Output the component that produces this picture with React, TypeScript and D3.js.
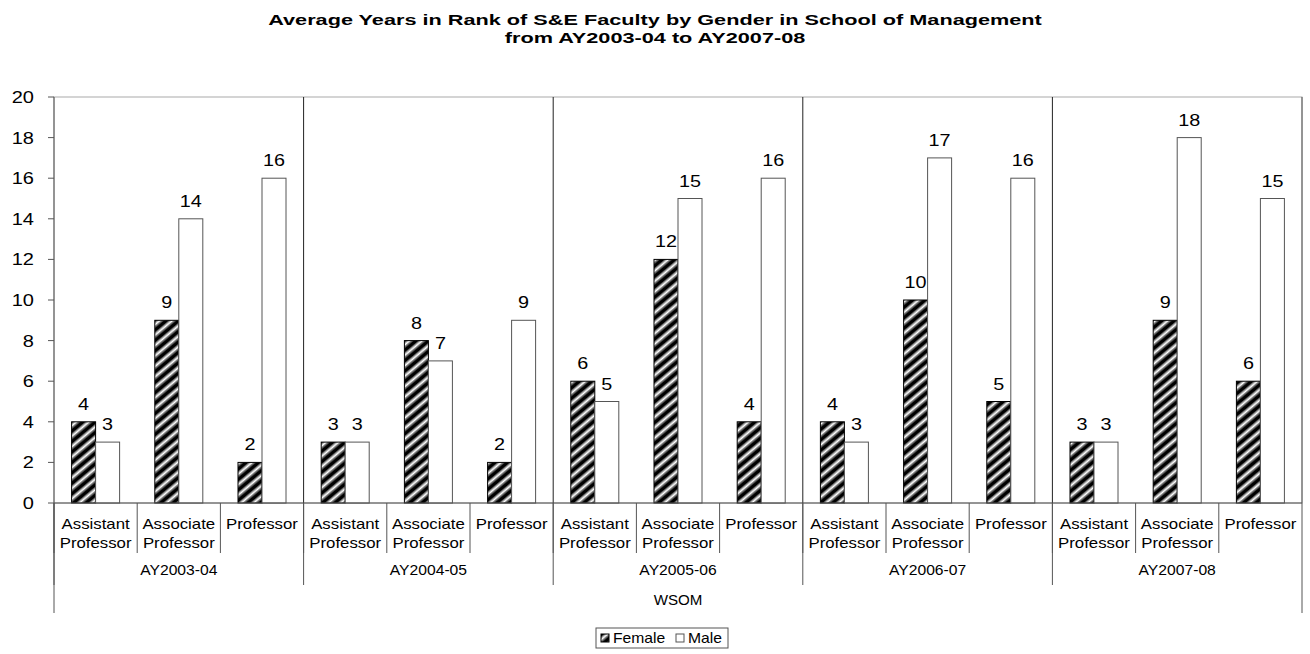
import * as d3 from "d3";
import React from "react";

const years = ["AY2003-04", "AY2004-05", "AY2005-06", "AY2006-07", "AY2007-08"];
const ranks = [["Assistant", "Professor"], ["Associate", "Professor"], ["Professor"]];
const female = [
  [4, 9, 2],
  [3, 8, 2],
  [6, 12, 4],
  [4, 10, 5],
  [3, 9, 6],
];
const male = [
  [3, 14, 16],
  [3, 7, 9],
  [5, 15, 16],
  [3, 17, 16],
  [3, 18, 15],
];
const yTicks = [0, 2, 4, 6, 8, 10, 12, 14, 16, 18, 20];
const outerLabel = "WSOM";
const titleLines = [
  "Average Years in Rank of S&E Faculty by Gender in School of Management",
  "from AY2003-04 to AY2007-08",
];

const W = 1310;
const H = 654;
const left = 54;
const right = 1302;
const top = 97;
const bottom = 503;
const font = "'Liberation Sans', Arial, sans-serif";

// text in the reference is a little stretched sideways
const T: React.FC<{
  x: number;
  y: number;
  size: number;
  sx?: number;
  anchor?: string;
  bold?: boolean;
  children: React.ReactNode;
}> = ({ x, y, size, sx = 1.15, anchor = "middle", bold, children }) => (
  <text
    transform={`translate(${x},${y}) scale(${sx},1)`}
    fontSize={size}
    fontWeight={bold ? "bold" : "normal"}
    textAnchor={anchor}
    fill="#000"
  >
    {children}
  </text>
);

const App: React.FC = () => {
  const cats = years.flatMap((_, gi) => ranks.map((_, ri) => `${gi}-${ri}`));
  const x = d3.scaleBand<string>().domain(cats).range([left, right]);
  const step = x.bandwidth();
  const inner = d3
    .scaleBand<string>()
    .domain(["Female", "Male"])
    .range([0, step])
    .paddingInner(0)
    .paddingOuter(0.733);
  const y = d3.scaleLinear().domain([0, 20]).range([bottom, top]);
  const groupW = step * ranks.length;

  return (
    <svg
      width={W}
      height={H}
      style={{ position: "absolute", left: 0, top: 0, display: "block" }}
      fontFamily={font}
    >
      <defs>
        <pattern
          id="hatch"
          patternUnits="userSpaceOnUse"
          width={8}
          height={8}
          patternTransform="rotate(-40)"
        >
          <rect width={8} height={8} fill="#000" />
          <rect x={0} y={2.3} width={8} height={1} fill="#999" />
          <rect x={0} y={3.3} width={8} height={2.2} fill="#fff" />
          <rect x={0} y={5.5} width={8} height={1} fill="#999" />
        </pattern>
      </defs>
      <rect width={W} height={H} fill="#fff" />

      {titleLines.map((t, i) => (
        <T key={i} x={W / 2} y={25 + i * 18} size={15.5} sx={1.4} bold>
          {t}
        </T>
      ))}

      {/* plot area */}
      <rect x={left} y={top} width={right - left} height={bottom - top} fill="none" stroke="#aaa" />
      {years.slice(1).map((_, gi) => (
        <line
          key={gi}
          x1={left + groupW * (gi + 1)}
          x2={left + groupW * (gi + 1)}
          y1={top}
          y2={bottom}
          stroke="#222"
        />
      ))}

      {/* bars */}
      {years.map((_, gi) =>
        ranks.map((_, ri) => {
          const cx = x(`${gi}-${ri}`)!;
          const vals = [female[gi][ri], male[gi][ri]];
          return ["Female", "Male"].map((g, k) => {
            const bx = cx + inner(g)!;
            const v = vals[k];
            return (
              <g key={`${gi}-${ri}-${g}`}>
                <rect
                  x={bx}
                  y={y(v)}
                  width={inner.bandwidth()}
                  height={bottom - y(v)}
                  fill={g === "Female" ? "url(#hatch)" : "#fff"}
                  stroke={g === "Female" ? "#000" : "#555"}
                  strokeWidth={1}
                />
                <T x={bx + inner.bandwidth() / 2} y={y(v) - 12} size={16.5} sx={1.2}>
                  {v}
                </T>
              </g>
            );
          });
        })
      )}

      {/* y axis */}
      <line x1={left} x2={left} y1={top} y2={613} stroke="#555" />
      <line x1={right} x2={right} y1={top} y2={613} stroke="#555" />
      {yTicks.map((t) => (
        <g key={t}>
          <line x1={left - 6} x2={left} y1={y(t)} y2={y(t)} stroke="#555" />
          <T x={34} y={y(t) + 6} size={16} sx={1.25} anchor="end">
            {t}
          </T>
        </g>
      ))}
      <line x1={left} x2={right} y1={bottom} y2={bottom} stroke="#555" />

      {/* multi-level category axis */}
      {cats.map((c) => (
        <line key={c} x1={x(c)!} x2={x(c)!} y1={bottom} y2={553} stroke="#555" />
      ))}
      {years.map((yr, gi) => (
        <line
          key={yr}
          x1={left + groupW * gi}
          x2={left + groupW * gi}
          y1={bottom}
          y2={585}
          stroke="#555"
        />
      ))}
      {years.map((_, gi) =>
        ranks.map((lines, ri) => {
          const cx = x(`${gi}-${ri}`)! + step / 2;
          return lines.map((ln, li) => (
            <T key={`${gi}-${ri}-${li}`} x={cx} y={529 + li * 19} size={14} sx={1.2}>
              {ln}
            </T>
          ));
        })
      )}
      {years.map((yr, gi) => (
        <T key={yr} x={left + groupW * (gi + 0.5)} y={575} size={14} sx={1.12}>
          {yr}
        </T>
      ))}
      <T x={(left + right) / 2} y={605} size={14} sx={1.08}>
        {outerLabel}
      </T>

      {/* legend */}
      <rect x={596} y={628} width={132} height={20} fill="#fff" stroke="#555" />
      <rect x={601} y={634} width={8} height={8} fill="url(#hatch)" stroke="#000" />
      <T x={613} y={643} size={14} sx={1.12} anchor="start">
        Female
      </T>
      <rect x={676} y={634} width={8} height={8} fill="#fff" stroke="#555" />
      <T x={688} y={643} size={14} sx={1.12} anchor="start">
        Male
      </T>
    </svg>
  );
};

export default App;
